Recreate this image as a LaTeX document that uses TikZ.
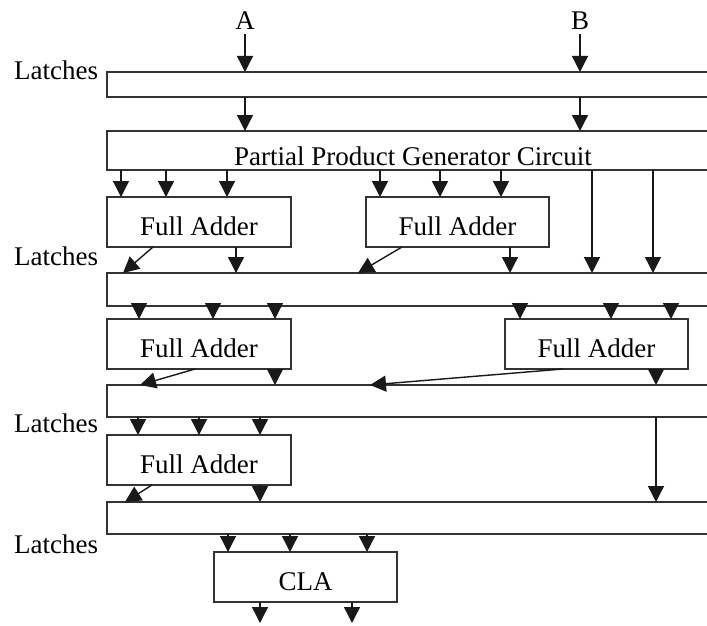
\documentclass[tikz,border=0pt]{standalone}
\usepackage{fontspec}
\setmainfont{Liberation Serif}
\usetikzlibrary{arrows.meta}
\tikzset{
  lbl/.style={font=\fontsize{27}{30}\selectfont, inner sep=0pt, outer sep=0pt},
  bar/.style={draw=black!80, line width=1.6pt, minimum width=613pt, inner sep=0pt, outer sep=0pt},
  unit/.style={draw=black!80, line width=1.6pt, minimum width=184pt, minimum height=50pt,
    inner sep=0pt, outer sep=0pt, font=\fontsize{27}{30}\selectfont, text height=26pt, text depth=0pt},
  arr/.style={draw=black!90, line width=1.4pt, -{Triangle[width=16pt,length=16pt]}},
}
% vertical arrow at x=#3 from the bottom of #1 to the top of #2
\newcommand\vlink[3]{\draw[arr] (#1.south -| #3,0) -- (#2.north -| #3,0);}
\begin{document}
\begin{tikzpicture}[x=1pt,y=-1pt]
\useasboundingbox (0,0) rectangle (707,626);
\clip (0,0) rectangle (707,626);

% inputs
\node[lbl, anchor=base, inner sep=4pt] (A) at (245,30) {A};
\node[lbl, anchor=base, inner sep=4pt] (B) at (580,30) {B};

% latch rows and the partial product generator
\node[bar, minimum height=25pt, anchor=north west] (L1) at (107,72) {};
\node[bar, minimum height=39pt, anchor=north west] (PPG) at (107,131) {};
\node[lbl, anchor=base] (ppgtext) at (413,165) {Partial Product Generator Circuit};
\node[bar, minimum height=33pt, anchor=north west] (L2) at (107,273) {};
\node[bar, minimum height=32pt, anchor=north west] (L3) at (107,385) {};
\node[bar, minimum height=32pt, anchor=north west] (L4) at (107,502) {};

% row labels
\node[lbl, anchor=base east] (lat1) at (98,80) {Latches};
\node[lbl, anchor=base east] (lat2) at (98,265) {Latches};
\node[lbl, anchor=base east] (lat3) at (98,432) {Latches};
\node[lbl, anchor=base east] (lat4) at (98,553) {Latches};

% adders
\node[unit, anchor=north west] (FA1) at (107,197) {Full Adder};
\node[unit, anchor=north west, minimum width=183pt] (FA2) at (366,197) {Full Adder};
\node[unit, anchor=north west] (FA3) at (107,319) {Full Adder};
\node[unit, anchor=north west, minimum width=183pt] (FA4) at (505,319) {Full Adder};
\node[unit, anchor=north west] (FA5) at (107,435) {Full Adder};
\node[unit, anchor=north west, minimum width=183pt] (CLA) at (214,552) {CLA};

% inputs into the first latches
\draw[arr] (A.south) -- (A |- L1.north);
\draw[arr] (B.south) -- (B |- L1.north);
\vlink{L1}{PPG}{245}
\vlink{L1}{PPG}{580}

% partial products
\foreach \x in {121,166,227} {\vlink{PPG}{FA1}{\x}}
\foreach \x in {380,440,501} {\vlink{PPG}{FA2}{\x}}
\foreach \x in {592,653} {\vlink{PPG}{L2}{\x}}

% first adder stage
\draw[arr] (FA1.south -| 153,0) -- (L2.north -| 123,0);
\vlink{FA1}{L2}{236}
\draw[arr] (FA2.south -| 402,0) -- (L2.north -| 358,0);
\vlink{FA2}{L2}{510}

% second adder stage
\foreach \x in {139,213,275} {\vlink{L2}{FA3}{\x}}
\foreach \x in {520,611,671} {\vlink{L2}{FA4}{\x}}
\draw[arr] (FA3.south -| 195,0) -- (L3.north -| 140,0);
\vlink{FA3}{L3}{275}
\draw[arr] (FA4.south -| 563,0) -- (L3.north -| 370,0);
\vlink{FA4}{L3}{656}

% third adder stage
\foreach \x in {138,199,260} {\vlink{L3}{FA5}{\x}}
\vlink{L3}{L4}{656}
\draw[arr] (FA5.south -| 152,0) -- (L4.north -| 125,0);
\vlink{FA5}{L4}{260}

% carry look-ahead adder
\foreach \x in {228,290,367} {\vlink{L4}{CLA}{\x}}
\coordinate (out1) at (260,623);
\coordinate (out2) at (352,623);
\draw[arr] (CLA.south -| out1) -- (out1);
\draw[arr] (CLA.south -| out2) -- (out2);
\end{tikzpicture}
\end{document}
